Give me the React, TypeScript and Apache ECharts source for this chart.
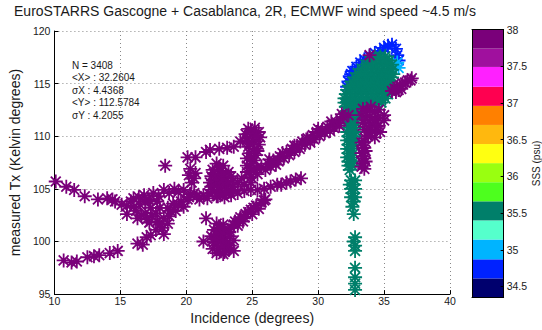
import React, { useEffect, useRef } from "react";
import * as echarts from "echarts";

const titleText = "EuroSTARRS Gascogne + Casablanca, 2R, ECMWF wind speed ~4.5 m/s";
const xAxisTitle = "Incidence (degrees)";
const yAxisTitle = "measured Tx (Kelvin degrees)";
const colorbarTitle = "SSS (psu)";
const statsLines = ["N = 3408", "<X> : 32.2604", "σX : 4.4368", "<Y> : 112.5784", "σY : 4.2055"];

const sssTicks = [34.5, 35, 35.5, 36, 36.5, 37, 37.5, 38];
const sssBounds = [34.35, 34.61, 34.87, 35.14, 35.4, 35.66, 35.92, 36.18, 36.44, 36.7, 36.96, 37.22, 37.49, 37.74, 38.0];
const sssColors = [
  "#00006e", "#0022ff", "#00b4ff", "#55ffcc", "#007f6a", "#4dff1e", "#99ff10",
  "#ffff11", "#ffb80e", "#ff8000", "#ff0050", "#ff20ff", "#a0109e", "#7a007a",
];

const purpleSSS = 37.9;
const tealSSS = 35.55;
const blueSSS = 34.75;
const skySSS = 35.0;

const purplePoints = [
  // left upper curve
  [10.1, 105.7], [10.9, 105.2], [11.5, 104.9], [12.3, 104.3], [13.3, 104.0], [14.0, 104.1], [14.4, 104.0],
  [14.6, 103.8], [15.1, 103.5], [15.5, 103.4],
  // middle band
  [15.5, 102.6], [16.0, 104.1], [16.8, 104.4], [17.5, 104.6], [18.3, 104.9], [19.1, 105.0], [19.8, 104.9],
  [20.6, 104.6], [21.3, 104.4], [22.4, 104.3], [23.4, 104.4], [24.4, 104.8], [25.4, 104.9], [26.4, 105.2],
  [27.2, 105.4], [27.9, 105.7], [28.7, 106.0],
  [15.8, 103.8], [16.4, 104.2], [17.1, 104.0], [17.9, 104.3], [18.7, 104.6], [19.4, 104.7], [20.3, 104.5],
  [21.0, 104.0], [21.6, 104.1], [23.9, 104.6], [24.9, 104.9], [25.9, 105.0], [26.9, 105.4], [27.6, 105.6],
  [28.3, 105.9],
  // loop
  [16.3, 102.2], [17.0, 102.1], [17.8, 101.9], [18.2, 101.3], [18.3, 100.7], [18.3, 102.2], [18.8, 102.9],
  [19.4, 103.5], [20.1, 104.0], [20.8, 104.3], [16.0, 103.3], [16.5, 103.5], [17.3, 103.2], [16.9, 102.7],
  [17.7, 102.7], [18.0, 103.2], [17.8, 103.8], [16.2, 102.9], [17.4, 102.4], [18.6, 101.7], [19.0, 103.6],
  [19.6, 103.8], [20.2, 104.2], [16.9, 103.8], [17.2, 103.9], [18.6, 103.2],
  [16.6, 102.5], [17.2, 101.8], [18.0, 101.6], [18.7, 102.4], [19.2, 102.9], [19.8, 103.3],
  // bottom curve
  [10.7, 98.2], [11.3, 98.0], [11.7, 98.1], [12.5, 98.5], [13.0, 98.6], [13.4, 98.7], [14.2, 98.9],
  [14.8, 99.1], [16.3, 99.8], [16.7, 99.7], [17.0, 100.4], [17.3, 100.6], [17.7, 101.1],
  // isolated
  [18.4, 107.2], [21.5, 102.2], [21.3, 100.0], [22.0, 99.3],
  // small blob and upper track
  [20.3, 106.9], [20.7, 106.5], [20.6, 106.0], [20.2, 106.3], [20.4, 105.6], [20.1, 108.0], [20.7, 108.0],
  [21.5, 108.5], [21.8, 108.7], [22.5, 108.8], [23.1, 108.9], [23.6, 109.0], [24.1, 109.5], [24.6, 109.8],
  // vertical blob near 25
  [24.7, 110.7], [25.2, 110.8], [25.5, 110.4], [24.5, 110.2], [25.0, 110.2], [25.6, 109.9], [24.6, 109.6],
  [25.1, 109.5], [25.5, 109.2], [24.7, 109.0], [25.2, 108.8], [24.8, 108.4], [25.3, 108.2], [24.6, 107.9],
  [25.1, 107.7], [24.6, 107.2], [25.3, 107.0], [24.8, 106.6], [25.4, 106.4], [24.9, 106.1],
  [24.9, 110.5], [25.3, 110.0], [24.8, 109.3], [25.4, 108.6], [24.9, 107.9], [24.9, 107.4], [25.1, 106.9],
  [24.6, 106.6],
  // big blob near 22.7, 105.8
  [22.3, 107.4], [22.8, 107.2], [22.0, 106.8], [22.6, 106.7], [23.2, 106.6], [21.9, 106.2], [22.4, 106.1],
  [23.0, 106.0], [23.5, 105.8], [21.8, 105.6], [22.3, 105.5], [22.9, 105.3], [23.5, 105.2], [22.0, 104.9],
  [22.6, 104.8], [23.2, 104.7], [22.3, 104.3], [22.9, 104.2], [23.9, 105.6], [24.4, 105.4], [24.9, 105.6],
  [24.2, 106.0],
  [22.5, 107.0], [22.1, 106.5], [22.8, 106.4], [23.4, 106.2], [22.2, 105.9], [22.7, 105.8], [23.2, 105.6],
  [21.9, 105.2], [22.5, 105.1], [23.1, 105.0], [23.6, 104.9], [22.6, 104.5], [23.0, 104.6], [21.7, 104.6],
  // lower blob near 22.7, 100.4
  [22.3, 101.7], [22.8, 101.6], [22.1, 101.1], [22.6, 101.0], [23.2, 100.9], [21.9, 100.5], [22.4, 100.4],
  [23.0, 100.3], [23.6, 100.1], [22.1, 99.9], [22.7, 99.8], [23.3, 99.6], [22.4, 99.3], [23.0, 99.2],
  [23.6, 99.1], [22.8, 98.8], [22.3, 98.9],
  [22.5, 101.3], [22.9, 101.2], [22.3, 100.7], [22.8, 100.7], [23.3, 100.5], [22.1, 100.2], [22.6, 100.1],
  [23.1, 99.9], [22.6, 99.5], [23.2, 99.4], [22.9, 99.0],
  // rising band
  [23.4, 101.3], [23.7, 101.9], [24.1, 102.3], [24.5, 102.6], [24.9, 103.0], [25.3, 103.4], [25.7, 103.7],
  [26.0, 104.0], [24.3, 101.9], [25.0, 102.6], [23.9, 101.5], [25.5, 103.1],
  [23.6, 101.6], [24.0, 102.0], [24.7, 102.8], [25.1, 103.2], [25.9, 103.9], [24.4, 102.3],
  // band towards cluster
  [25.7, 107.1], [26.2, 107.4], [26.6, 107.7], [27.1, 108.1], [27.6, 108.5], [28.0, 108.8], [28.4, 109.1],
  [28.8, 109.5], [29.2, 109.8], [29.6, 110.1], [29.9, 110.4], [30.3, 110.6], [30.7, 110.9], [31.1, 111.1],
  [31.4, 111.3], [31.7, 111.6], [31.9, 111.8], [32.3, 112.0], [26.0, 106.8], [26.8, 107.3], [27.4, 107.9],
  [28.2, 108.5], [29.0, 109.2], [29.7, 109.7], [30.5, 110.3], [31.2, 110.8],
  [26.4, 107.1], [27.0, 107.6], [27.8, 108.2], [28.6, 108.8], [29.4, 109.4], [30.1, 110.0], [30.9, 110.5],
  [31.6, 111.0], [26.3, 107.8], [27.3, 108.4], [28.2, 109.1], [29.1, 109.7], [30.0, 110.7], [31.0, 111.4],
  [31.8, 112.1],
  // purple blob in cluster
  [33.4, 112.6], [34.0, 112.8], [34.6, 112.5], [33.3, 112.0], [33.9, 111.9], [34.5, 111.8], [35.0, 111.5],
  [33.4, 111.3], [34.0, 111.2], [34.6, 111.0], [33.5, 110.6], [34.1, 110.5], [34.7, 110.4], [33.8, 110.0],
  [34.3, 109.9], [33.7, 112.4], [34.3, 112.3], [33.6, 111.6], [34.3, 111.5], [33.8, 110.9], [34.4, 110.9],
  [34.0, 110.3], [35.0, 112.0],
  // purple column
  [33.6, 109.8], [33.3, 109.4], [33.5, 108.9], [33.3, 108.4], [33.5, 107.9], [33.4, 107.4], [33.5, 106.9],
  [33.4, 109.1], [33.6, 108.6], [33.4, 108.1], [33.6, 107.6], [33.3, 107.1],
  // purple upper right
  [35.6, 114.3], [36.0, 114.7], [36.4, 115.0], [36.8, 115.3], [37.1, 115.5], [35.9, 114.2], [36.3, 114.5],
  [35.8, 114.5], [36.2, 114.8], [36.6, 115.1], [37.0, 115.3], [36.1, 114.4],
  [33.9, 117.7],
];

const bluePoints = [
  [32.3, 115.2], [32.4, 115.7], [32.6, 116.2], [32.9, 116.6], [33.2, 117.0], [33.5, 117.3], [33.9, 117.6],
  [34.3, 117.9], [34.7, 118.1], [35.0, 118.4], [35.3, 118.6], [35.6, 118.7], [35.9, 118.3], [36.0, 117.7],
  [36.1, 117.2], [32.5, 115.9], [32.2, 114.7],
];

const skyPoints = [[36.1, 116.5], [36.0, 117.0]];

const tealPoints = [
  [34.3, 117.6], [34.7, 117.6], [35.1, 117.6],
  [33.9, 117.2], [34.3, 117.2], [34.7, 117.2], [35.1, 117.2], [35.4, 117.2],
  [33.6, 116.8], [34.0, 116.8], [34.4, 116.8], [34.8, 116.8], [35.2, 116.8], [35.6, 116.8],
  [33.3, 116.4], [33.7, 116.4], [34.1, 116.4], [34.5, 116.4], [34.9, 116.4], [35.3, 116.4], [35.6, 116.3],
  [33.0, 116.0], [33.4, 116.0], [33.8, 116.0], [34.2, 116.0], [34.6, 116.0], [35.0, 116.0], [35.4, 116.0], [35.7, 115.9],
  [32.8, 115.6], [33.2, 115.6], [33.6, 115.6], [34.0, 115.6], [34.4, 115.6], [34.8, 115.6], [35.2, 115.6], [35.6, 115.6],
  [32.6, 115.2], [33.0, 115.2], [33.4, 115.2], [33.8, 115.2], [34.2, 115.2], [34.6, 115.2], [35.0, 115.2], [35.4, 115.2],
  [32.4, 114.8], [32.8, 114.8], [33.2, 114.8], [33.6, 114.8], [34.0, 114.8], [34.4, 114.8], [34.8, 114.8], [35.2, 114.8], [35.5, 114.9],
  [32.2, 114.4], [32.6, 114.4], [33.0, 114.4], [33.4, 114.4], [33.8, 114.4], [34.2, 114.4], [34.6, 114.4], [35.0, 114.4], [35.4, 114.4],
  [32.1, 114.0], [32.5, 114.0], [32.9, 114.0], [33.3, 114.0], [33.7, 114.0], [34.1, 114.0], [34.5, 114.0], [34.9, 114.0], [35.3, 114.0],
  [32.0, 113.6], [32.4, 113.6], [32.8, 113.6], [33.2, 113.6], [33.6, 113.6], [34.0, 113.6], [34.4, 113.6], [34.8, 113.6], [35.1, 113.6],
  [32.0, 113.2], [32.4, 113.2], [32.8, 113.2], [33.2, 113.2], [33.6, 113.2], [34.0, 113.2], [34.4, 113.2], [34.8, 113.2],
  [32.1, 112.8], [32.5, 112.8], [32.9, 112.8], [33.3, 112.8], [33.7, 112.8],
  [32.2, 112.4], [32.6, 112.4], [33.0, 112.4],
  [32.2, 112.0], [32.6, 112.0], [33.0, 112.0],
  [32.3, 111.6], [32.7, 111.6], [32.2, 111.2], [32.6, 111.2], [32.9, 111.2], [32.3, 110.8], [32.7, 110.8],
  [32.2, 110.4], [32.6, 110.4], [32.9, 110.4], [32.3, 110.0], [32.7, 110.0], [32.2, 109.6], [32.6, 109.6],
  [32.9, 109.6], [32.3, 109.2], [32.7, 109.2], [32.2, 108.8], [32.6, 108.8], [32.3, 108.4], [32.7, 108.4],
  [32.2, 108.0], [32.6, 108.0], [32.3, 107.6], [32.7, 107.6], [32.3, 107.2], [32.6, 107.2], [32.4, 106.8],
  [32.5, 105.8], [32.8, 105.8], [32.4, 105.4], [32.7, 105.4], [32.5, 105.0], [32.8, 105.0], [32.6, 104.6],
  [32.5, 104.2], [32.8, 104.2], [32.7, 103.8], [32.6, 103.3], [32.7, 102.6],
  [32.8, 100.4], [32.7, 100.0], [32.8, 99.6], [32.8, 99.1],
  [32.8, 97.5], [32.8, 96.6], [32.8, 96.0], [32.8, 95.4],
];

const STAR =
  "path://M-0.065,-0.5L0.065,-0.5L0.065,0.5L-0.065,0.5Z" +
  "M-0.5,-0.065L0.5,-0.065L0.5,0.065L-0.5,0.065Z" +
  "M-0.3076,-0.3996L0.3996,0.3076L0.3076,0.3996L-0.3996,-0.3076Z" +
  "M-0.3996,0.3076L0.3076,-0.3996L0.3996,-0.3076L-0.3076,0.3996Z";

const FONT = "'Liberation Sans', Arial, Helvetica, sans-serif";
const TXT = "#1a1a1a";

function withSSS(pts: number[][], s: number) {
  return pts.map((p) => [p[0], p[1], s]);
}

export default function App() {
  const ref = useRef<HTMLDivElement>(null);
  useEffect(() => {
    if (!ref.current) return;
    const chart = echarts.init(ref.current, null, { renderer: "svg" });
    const pieces = sssColors.map((c, i) => ({ gte: sssBounds[i], lt: sssBounds[i + 1], color: c }));
    const scatterBase = {
      type: "scatter",
      symbol: STAR,
      symbolSize: 14,
      xAxisIndex: 0,
      yAxisIndex: 0,
      itemStyle: { opacity: 1 },
      emphasis: { disabled: true },
    };
    const bands = sssColors.map((c, i) => [sssBounds[i], sssBounds[i + 1], i]);
    const option: any = {
      animation: false,
      backgroundColor: "#ffffff",
      textStyle: { fontFamily: FONT },
      grid: [
        { left: 54, top: 31, width: 396, height: 266 },
        { left: 472, top: 29.5, width: 34, height: 268 },
      ],
      visualMap: {
        type: "piecewise",
        show: false,
        dimension: 2,
        seriesIndex: [0, 1, 2, 3],
        pieces,
      },
      xAxis: [
        {
          type: "value", gridIndex: 0, min: 10, max: 40, interval: 5,
          name: xAxisTitle, nameLocation: "middle", nameGap: 16,
          nameTextStyle: { fontSize: 14, color: TXT, fontFamily: FONT },
          axisLine: { show: true, lineStyle: { color: "#000", width: 1 } },
          axisTick: { show: true, inside: true, length: 4, lineStyle: { color: "#000" } },
          axisLabel: { fontSize: 10.5, color: TXT, margin: 1, fontFamily: FONT },
          splitLine: { show: true, lineStyle: { type: [1, 3], color: "#888", width: 1 } },
        },
        {
          type: "value", gridIndex: 1, min: 0, max: 1, position: "bottom", z: 10,
          axisLine: { show: true, onZero: false, lineStyle: { color: "#000", width: 1 } },
          axisTick: { show: false }, axisLabel: { show: false }, splitLine: { show: false },
        },
        {
          type: "value", gridIndex: 1, min: 0, max: 1, position: "top", z: 10,
          axisLine: { show: true, onZero: false, lineStyle: { color: "#000", width: 1 } },
          axisTick: { show: false }, axisLabel: { show: false }, splitLine: { show: false },
        },
      ],
      yAxis: [
        {
          type: "value", gridIndex: 0, min: 95, max: 120, interval: 5,
          name: yAxisTitle, nameLocation: "middle", nameGap: 29, nameRotate: 90,
          nameTextStyle: { fontSize: 14, color: TXT, fontFamily: FONT },
          axisLine: { show: true, lineStyle: { color: "#000", width: 1 } },
          axisTick: { show: true, inside: true, length: 4, lineStyle: { color: "#000" } },
          axisLabel: { fontSize: 10.5, color: TXT, margin: 4, fontFamily: FONT },
          splitLine: { show: true, lineStyle: { type: [1, 3], color: "#888", width: 1 } },
        },
        {
          type: "value", gridIndex: 1, min: 34.35, max: 38, position: "right", z: 10,
          name: colorbarTitle, nameLocation: "middle", nameGap: 27, nameRotate: 90,
          nameTextStyle: { fontSize: 10, color: TXT, fontFamily: FONT },
          axisLine: { show: true, onZero: false, lineStyle: { color: "#000", width: 1 } },
          axisTick: { show: true, inside: true, length: 3, customValues: sssTicks, lineStyle: { color: "#000" } },
          axisLabel: { fontSize: 10.5, color: TXT, margin: 3, customValues: sssTicks, fontFamily: FONT, formatter: (v: number) => String(v) },
          splitLine: { show: false },
        },
        {
          type: "value", gridIndex: 1, min: 34.35, max: 38, position: "left", z: 10,
          axisLine: { show: true, onZero: false, lineStyle: { color: "#000", width: 1 } },
          axisTick: { show: false }, axisLabel: { show: false }, splitLine: { show: false },
        },
      ],
      graphic: [
        {
          type: "text", x: 245, y: 4,
          style: { text: titleText, fontSize: 14, fill: TXT, fontFamily: FONT, textAlign: "center" },
        },
        ...statsLines.map((t, i) => ({
          type: "text", x: 72, y: 65 + i * 12.5,
          style: { text: t, fontSize: 10, fill: TXT, fontFamily: FONT, textVerticalAlign: "middle" },
        })),
      ],
      series: [
        { ...scatterBase, name: "blue", data: withSSS(bluePoints, blueSSS) },
        { ...scatterBase, name: "sky", data: withSSS(skyPoints, skySSS) },
        { ...scatterBase, name: "teal", data: withSSS(tealPoints, tealSSS) },
        { ...scatterBase, name: "purple", data: withSSS(purplePoints, purpleSSS) },
        {
          type: "custom",
          xAxisIndex: 1,
          yAxisIndex: 1,
          data: bands,
          encode: { x: -1, y: [0, 1] },
          renderItem: (params: any, api: any) => {
            const lo = api.value(0);
            const hi = api.value(1);
            const p0 = api.coord([0, lo]);
            const p1 = api.coord([1, hi]);
            return {
              type: "rect",
              shape: { x: p0[0], y: p1[1], width: p1[0] - p0[0], height: p0[1] - p1[1] },
              style: { fill: sssColors[api.value(2)] },
            };
          },
        },
      ],
    };
    chart.setOption(option);
    return () => chart.dispose();
  }, []);
  return (
    <div
      ref={ref}
      style={{ position: "absolute", left: 0, top: 0, width: 542, height: 330, background: "#fff" }}
    />
  );
}
